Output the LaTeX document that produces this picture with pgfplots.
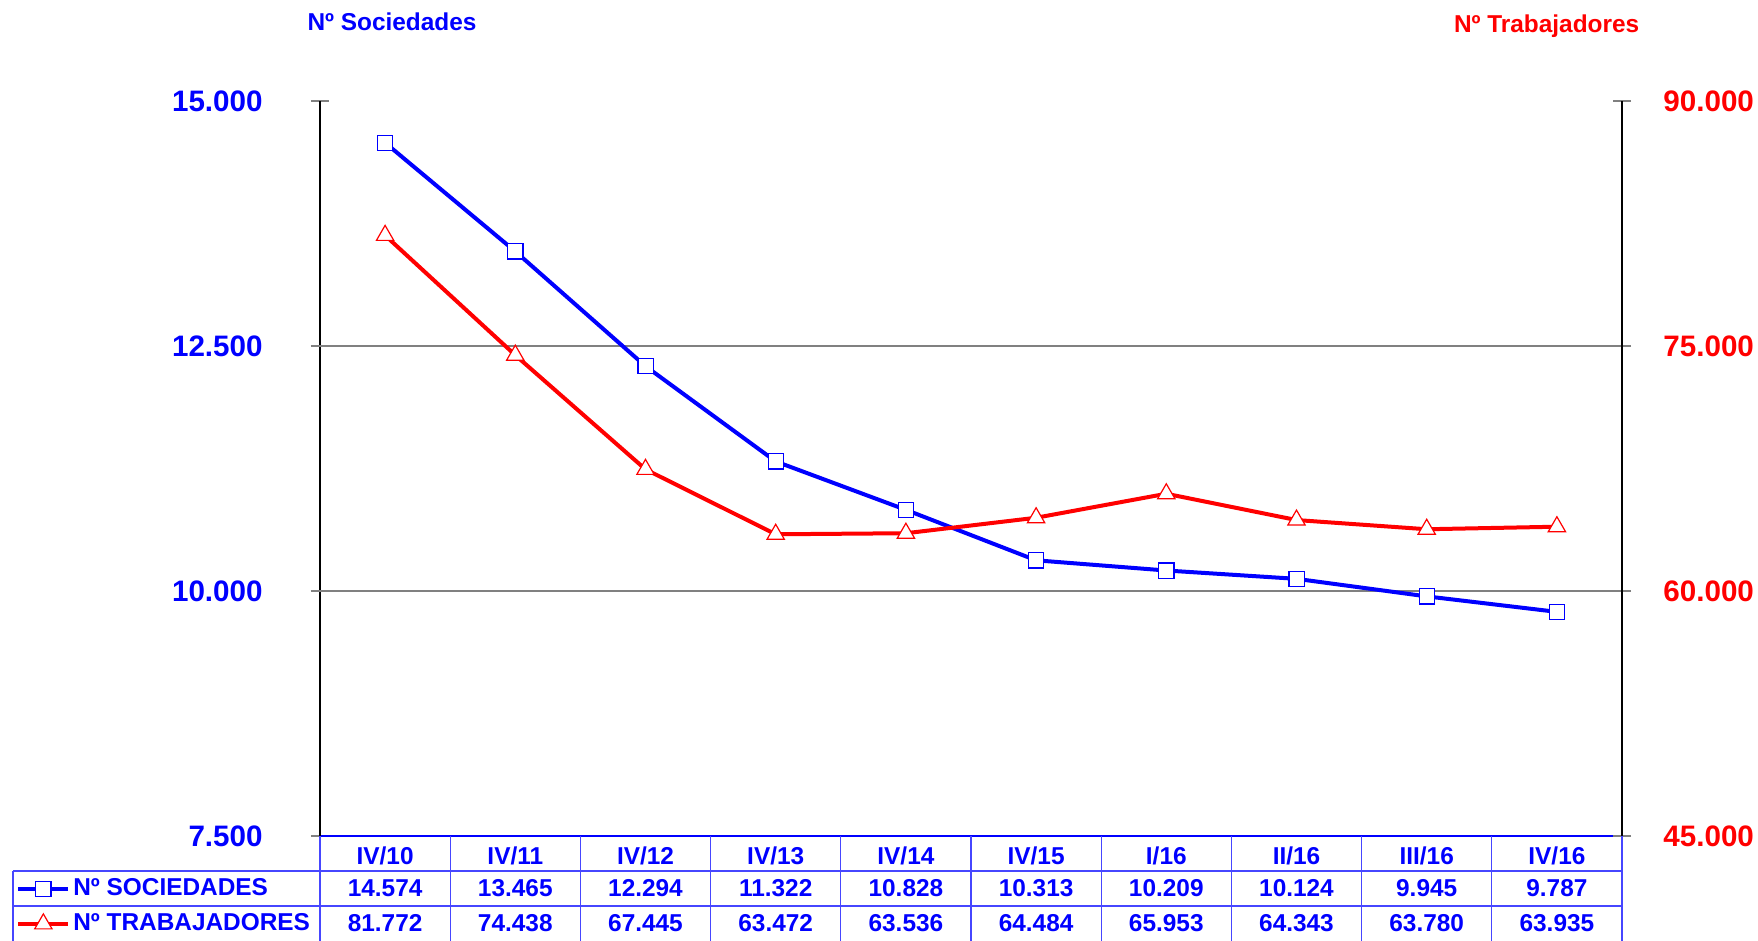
\documentclass[border=0pt]{standalone}
\usepackage{pgfplots}
\pgfplotsset{compat=1.18}
\usepackage{pgfplotstable}
\usepackage{fontspec}
\setmainfont{Liberation Sans}
\definecolor{tblue}{RGB}{0,0,255}
\definecolor{tred}{RGB}{255,0,0}
\definecolor{lineblue}{RGB}{70,70,255}

\pgfplotstableread{
x soc trab
0 14574 81772
1 13465 74438
2 12294 67445
3 11322 63472
4 10828 63536
5 10313 64484
6 10209 65953
7 10124 64343
8 9945 63780
9 9787 63935
}\datatable

\begin{document}
\begin{tikzpicture}
\pgfplotsset{
  common/.style={
    at={(160pt,52.5pt)}, anchor=south west,
    width=651pt, height=367.5pt, scale only axis,
    xmin=-0.5, xmax=9.5,
    scaled y ticks=false,
    major tick length=9pt, tick align=center,
    ytick style={gray, line width=0.6pt},
    yticklabel style={font=\fontsize{14.8}{16}\selectfont\bfseries, inner sep=0pt},
    clip=false,
  }
}
\begin{axis}[common,
  ymin=7500, ymax=15000,
  axis x line*=bottom, axis y line*=left,
  x axis line style={-, draw=tblue, line width=0.6pt},
  y axis line style={-, draw=black, line width=0.6pt},
  xtick={0,...,9},
  xticklabels={IV/10,IV/11,IV/12,IV/13,IV/14,IV/15,I/16,II/16,III/16,IV/16},
  xtick style={draw=none},
  xticklabel style={font=\fontsize{12.2}{14}\selectfont\bfseries, text=tblue, anchor=base, yshift=-9.75pt},
  ytick={7500,10000,12500,15000},
  yticklabels={7.500,10.000,12.500,15.000},
  yticklabel style={text=tblue, anchor=east, xshift=-24pt},
  extra y ticks={10000,12500},
  extra y tick labels={},
  extra y tick style={grid=major, major grid style={gray, line width=0.6pt}},
]
\addplot[tblue, line width=2pt, mark=square*, mark size=3.8pt,
  mark options={fill=white, draw=tblue, line width=0.6pt}] table[x=x, y=soc] {\datatable};
\end{axis}
\begin{axis}[common,
  ymin=45000, ymax=90000,
  axis y line*=right, axis x line=none,
  y axis line style={-, draw=black, line width=0.6pt},
  ytick={45000,60000,75000,90000},
  yticklabels={45.000,60.000,75.000,90.000},
  yticklabel style={text=tred, anchor=west, xshift=16pt},
  legend style={at={(-0.2335,-0.0476)}, anchor=north west, draw=none, fill=none,
    font=\fontsize{12.2}{14}\selectfont\bfseries, text=tblue,
    inner sep=0pt, row sep=0pt,
    nodes={inner xsep=1.5pt, inner ysep=0pt, minimum height=17.5pt}},
  legend cell align=left,
  legend image code/.code={\draw[mark repeat=2,mark phase=2] plot coordinates {(0pt,0pt) (12.5pt,0pt) (25pt,0pt)};},
]
\addlegendimage{tblue, line width=2pt, mark=square*, mark size=3.8pt,
  mark options={fill=white, draw=tblue, line width=0.6pt}}
\addlegendentry{Nº SOCIEDADES}
\addplot[tred, line width=2pt, mark=triangle*, mark size=5pt,
  mark options={fill=white, draw=tred, line width=0.6pt}] table[x=x, y=trab] {\datatable};
\addlegendentry{Nº TRABAJADORES}
\end{axis}

% table grid
\begin{scope}[lineblue, line width=0.6pt]
\foreach \k in {0,...,10} {
  \draw ({160pt+\k*65.1pt},52.5pt) -- ({160pt+\k*65.1pt},0pt);
}
\draw (6.5pt,35pt) -- (811pt,35pt);
\draw (6.5pt,17.5pt) -- (811pt,17.5pt);
\draw (6.5pt,35pt) -- (6.5pt,0pt);
\end{scope}

\begin{scope}[font=\fontsize{12.2}{14}\selectfont\bfseries, text=tblue]
\foreach \v [count=\i from 0] in {14.574,13.465,12.294,11.322,10.828,10.313,10.209,10.124,9.945,9.787} {
  \node at ({160pt+(\i+0.5)*65.1pt},26.25pt) {\v};
}
\foreach \v [count=\i from 0] in {81.772,74.438,67.445,63.472,63.536,64.484,65.953,64.343,63.780,63.935} {
  \node at ({160pt+(\i+0.5)*65.1pt},8.75pt) {\v};
}
\node at (196pt,459.8pt) {Nº Sociedades};
\node[text=tred] at (773.3pt,457.6pt) {Nº Trabajadores};
\end{scope}

\pgfresetboundingbox
\path (0pt,0pt) rectangle (879pt,470.5pt);
\end{tikzpicture}
\end{document}
